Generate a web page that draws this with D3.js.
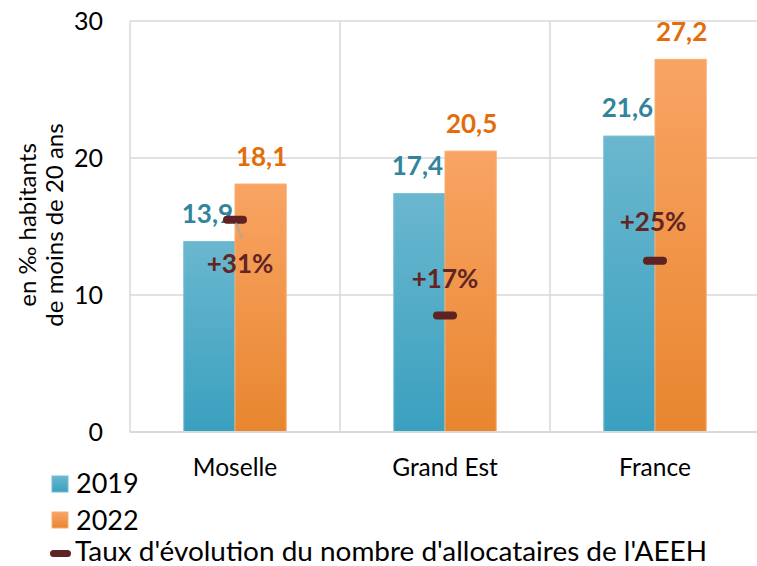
<!DOCTYPE html>
<html>
<head>
<meta charset="utf-8">
<script src="https://cdn.jsdelivr.net/npm/d3@7"></script>
<style>
  body { margin: 0; background: #fff; }
  text { font-family: Lato, "Open Sans", sans-serif; }
</style>
</head>
<body>
<svg id="chart" width="757" height="566"></svg>
<script>
// AEEH chart: bars per 1000 under-20s, dash marker for growth rate
var categories = ["Moselle", "Grand Est", "France"];
var years = ["2019", "2022"];
var values2019 = [13.9, 17.4, 21.6];
var values2022 = [18.1, 20.5, 27.2];
var evolution = [31, 17, 25]; // in %
var yTicks = [0, 10, 20, 30];

var svg = d3.select("#chart");
var defs = svg.append("defs");

var mLeft = 130, mRight = 760, mTop = 21, mBottom = 432;

var x = d3.scaleBand().domain(categories).range([mLeft, mRight]);
var xSub = d3.scaleBand().domain(years).range([0, x.bandwidth()]).paddingOuter(1.05);
var y = d3.scaleLinear().domain([0, 30]).range([mBottom, mTop]);
var y2 = d3.scaleLinear().domain([0, 60]).range([mBottom, mTop]); // hidden secondary axis

function grad(id, c1, c2) {
  var g = defs.append("linearGradient").attr("id", id)
    .attr("x1", 0).attr("y1", 0).attr("x2", 0).attr("y2", 1);
  g.append("stop").attr("offset", "0%").attr("stop-color", c1);
  g.append("stop").attr("offset", "100%").attr("stop-color", c2);
}
grad("gBlue", "#6ab7cf", "#3aa0bf");
grad("gOrange", "#f9a464", "#e8862f");

// gridlines
svg.append("g").selectAll("line").data(yTicks.slice(1)).join("line")
  .attr("x1", mLeft).attr("x2", 757)
  .attr("y1", d => y(d)).attr("y2", d => y(d))
  .attr("stroke", "#d9d9d9").attr("stroke-width", 1.5);
svg.append("g").selectAll("line").data(categories.slice(1)).join("line")
  .attr("x1", d => x(d)).attr("x2", d => x(d))
  .attr("y1", mTop).attr("y2", mBottom)
  .attr("stroke", "#d9d9d9").attr("stroke-width", 1.5);
svg.append("line").attr("x1", mLeft).attr("x2", mLeft).attr("y1", mTop).attr("y2", mBottom)
  .attr("stroke", "#d9d9d9").attr("stroke-width", 1.5);

// y axis labels
var yAxis = d3.axisLeft(y).tickValues(yTicks).tickSize(0).tickPadding(27);
var ya = svg.append("g").attr("transform", "translate(" + mLeft + ",0)").call(yAxis);
ya.select(".domain").remove();
ya.selectAll("text").attr("font-size", 25).attr("fill", "#000")
  .style("font-family", "Lato, sans-serif");

// axis title
var yt = svg.append("text").attr("transform", "translate(41,225) rotate(-90)")
  .attr("text-anchor", "middle").attr("font-size", 24).attr("fill", "#000");
yt.append("tspan").attr("x", 0).attr("dy", -5).text("en ‰ habitants");
yt.append("tspan").attr("x", 0).attr("dy", 27).text("de moins de 20 ans");

// bars
var series = [
  {year: "2019", vals: values2019, fill: "url(#gBlue)", stroke: "#74bdd4", label: "#31849b"},
  {year: "2022", vals: values2022, fill: "url(#gOrange)", stroke: "#f8ad74", label: "#e46c0a"}
];
series.forEach(function(s) {
  svg.append("g").selectAll("rect").data(categories).join("rect")
    .attr("x", d => x(d) + xSub(s.year))
    .attr("y", (d, i) => y(s.vals[i]))
    .attr("width", xSub.bandwidth())
    .attr("height", (d, i) => mBottom - y(s.vals[i]))
    .attr("fill", s.fill).attr("stroke", s.stroke).attr("stroke-width", 1);
});

// bottom axis line
svg.append("line").attr("x1", mLeft).attr("x2", 757).attr("y1", mBottom).attr("y2", mBottom)
  .attr("stroke", "#d9d9d9").attr("stroke-width", 2);

// value labels
series.forEach(function(s, si) {
  svg.append("g").selectAll("text").data(categories).join("text")
    .attr("x", (d, i) => x(d) + xSub(s.year) + xSub.bandwidth() / 2 + (si == 0 ? -2 : 1))
    .attr("y", (d, i) => y(s.vals[i]) - (si == 0 ? 19 : 18))
    .attr("text-anchor", "middle")
    .attr("font-size", 26).attr("font-weight", "bold").attr("fill", s.label)
    .text((d, i) => d3.format(".1f")(s.vals[i]).replace(".", ","));
});

// category labels
svg.append("g").selectAll("text").data(categories).join("text")
  .attr("x", d => x(d) + x.bandwidth() / 2).attr("y", 476)
  .attr("text-anchor", "middle").attr("font-size", 24.5).attr("fill", "#000")
  .text(d => d);

// evolution markers
var markColor = "#5e2222";
svg.append("g").selectAll("rect").data(categories).join("rect")
  .attr("x", d => x(d) + x.bandwidth() / 2 - 12)
  .attr("y", (d, i) => y2(evolution[i]) - 4)
  .attr("width", 24).attr("height", 8).attr("rx", 4)
  .attr("fill", markColor);

// leader line for Moselle label
svg.append("line")
  .attr("x1", x("Moselle") + x.bandwidth() / 2 + 1).attr("y1", y2(evolution[0]) + 3)
  .attr("x2", x("Moselle") + x.bandwidth() / 2 + 7).attr("y2", y2(evolution[0]) + 19)
  .attr("stroke", "#a6a6a6").attr("stroke-width", 1.5);

var evoDy = [53, -28, -30];
var evoDx = [5, 0, -2];
svg.append("g").selectAll("text").data(categories).join("text")
  .attr("x", (d, i) => x(d) + x.bandwidth() / 2 + evoDx[i])
  .attr("y", (d, i) => y2(evolution[i]) + evoDy[i])
  .attr("text-anchor", "middle")
  .attr("font-size", 26).attr("font-weight", "bold").attr("fill", "#632523")
  .text((d, i) => "+" + evolution[i] + "%");

// legend
var leg = svg.append("g");
leg.append("rect").attr("x", 52).attr("y", 476).attr("width", 16).attr("height", 16)
  .attr("fill", "url(#gBlue)").attr("stroke", "#74bdd4");
leg.append("text").attr("x", 76).attr("y", 493).attr("font-size", 27).text("2019");
leg.append("rect").attr("x", 52).attr("y", 512).attr("width", 16).attr("height", 16)
  .attr("fill", "url(#gOrange)").attr("stroke", "#f8ad74");
leg.append("text").attr("x", 76).attr("y", 530).attr("font-size", 27).text("2022");
leg.append("rect").attr("x", 50).attr("y", 550).attr("width", 21).attr("height", 7).attr("rx", 3.5)
  .attr("fill", markColor);
leg.append("text").attr("x", 75).attr("y", 561).attr("font-size", 26)
  .attr("textLength", 632).attr("lengthAdjust", "spacingAndGlyphs")
  .text("Taux d'évolution du nombre d'allocataires de l'AEEH");
</script>
</body>
</html>
